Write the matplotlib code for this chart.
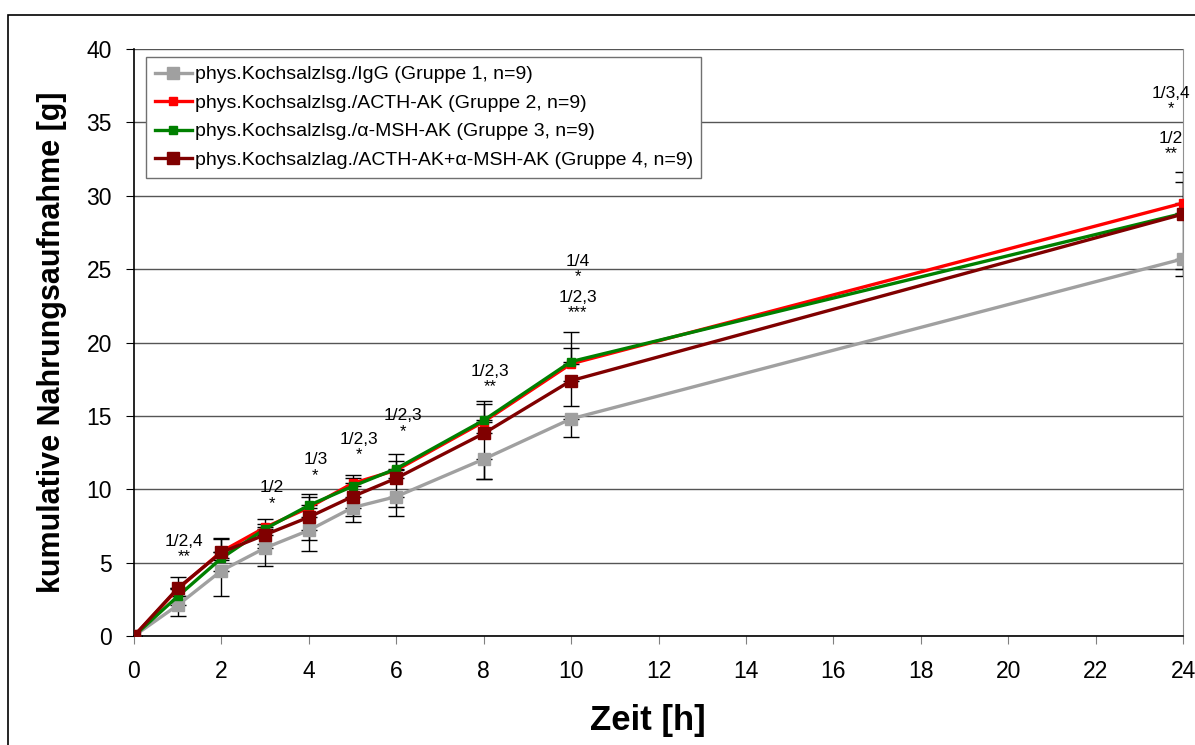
"""Kumulative Nahrungsaufnahme über die Zeit (4 Gruppen, Mittelwert ± SEM)."""

import matplotlib

matplotlib.use("Agg")
import matplotlib.pyplot as plt
from matplotlib.patches import Rectangle

plt.rcParams["font.family"] = ["Liberation Sans", "DejaVu Sans"]

# Zeitpunkte [h]
zeit = [0, 1, 2, 3, 4, 5, 6, 8, 10, 24]

# Mittelwerte [g]
gruppe1 = [0, 2.1, 4.45, 6.0, 7.2, 8.75, 9.5, 12.05, 14.8, 25.7]
gruppe2 = [0, 3.2, 5.75, 7.4, 8.75, 10.4, 11.3, 14.6, 18.55, 29.5]
gruppe3 = [0, 2.7, 5.3, 7.3, 8.9, 10.2, 11.4, 14.7, 18.7, 28.8]
gruppe4 = [0, 3.25, 5.7, 6.9, 8.1, 9.5, 10.75, 13.8, 17.4, 28.75]

# Fehlerbalken (Gruppe 2/3 nur nach oben, Gruppe 1/4 nur nach unten)
err1_lo = [0, 0.75, 1.7, 1.2, 1.4, 1.0, 1.3, 1.35, 1.25, 1.2]
err2_hi = [0, 0.8, 0.9, 0.6, 0.7, 0.55, 0.65, 1.2, 1.1, 2.15]
err3_hi = [0, 0.6, 1.3, 0.3, 0.8, 0.6, 1.0, 1.3, 2.0, 2.15]
err4_lo = [0, 0.5, 0.5, 0.6, 1.55, 1.3, 1.95, 3.1, 1.7, 3.75]
zero = [0] * len(zeit)

labels = [
    "phys.Kochsalzlsg./IgG (Gruppe 1, n=9)",
    "phys.Kochsalzlsg./ACTH-AK (Gruppe 2, n=9)",
    "phys.Kochsalzlsg./\u03b1-MSH-AK (Gruppe 3, n=9)",
    "phys.Kochsalzlag./ACTH-AK+\u03b1-MSH-AK (Gruppe 4, n=9)",
]
colors = ["#A0A0A0", "#FF0000", "#008000", "#800000"]

# Signifikanzangaben: (Zeit, Vergleich, Sterne)
sig_zeit = [1, 3, 4, 5, 6, 8, 10, 10, 24, 24]
sig_text = ["1/2,4", "1/2", "1/3", "1/2,3", "1/2,3", "1/2,3", "1/4", "1/2,3", "1/3,4", "1/2"]
sig_sterne = ["**", "*", "*", "*", "*", "**", "*", "***", "*", "**"]
# Textposition (y der Vergleichszeile)
sig_y = [6.45, 10.1, 12.0, 13.4, 15.0, 18.05, 25.55, 23.1, 37.0, 33.9]


def main() -> None:
    fig = plt.figure(figsize=(11.95, 7.45), dpi=100)
    ax = fig.add_axes([134 / 1195, 1 - 636 / 745, 1049 / 1195, 587 / 745])

    # Rahmen um die Grafik
    fig.patches.append(Rectangle((8 / 1195, -0.1), 1.1, 0.98 + 0.1, transform=fig.transFigure,
                                 fill=False, edgecolor="black", linewidth=1.2))

    series = [
        (gruppe1, [err1_lo, zero], 8),
        (gruppe2, [zero, err2_hi], 6),
        (gruppe3, [zero, err3_hi], 6),
        (gruppe4, [err4_lo, zero], 8),
    ]
    for (y, yerr, ms), lab, col in zip(series, labels, colors):
        ax.errorbar(zeit, y, yerr=yerr, fmt="none", ecolor="black", elinewidth=1,
                    capsize=6, capthick=1, zorder=2)
    for (y, yerr, ms), lab, col in zip(series, labels, colors):
        ax.plot(zeit, y, color=col, linewidth=2.4, marker="s", markersize=ms,
                label=lab, zorder=3)

    for t, txt, st, yy in zip(sig_zeit, sig_text, sig_sterne, sig_y):
        xx = 23.72 if t == 24 else t + 0.15
        ax.text(xx, yy, txt, ha="center", va="center", fontsize=12.5)
        ax.text(xx, yy - 1.05, st, ha="center", va="center", fontsize=12)

    ax.set_xlim(0, 24)
    ax.set_ylim(0, 40)
    ax.set_xticks(range(0, 25, 2))
    ax.set_yticks(range(0, 41, 5))
    ax.tick_params(axis="both", labelsize=16.5)
    ax.tick_params(axis="x", length=6, pad=11, color="#808080")
    ax.tick_params(axis="y", length=6, pad=10)
    ax.yaxis.grid(True, color="#555555", linewidth=1)
    ax.set_axisbelow(True)
    ax.spines["top"].set_visible(False)
    ax.spines["right"].set_color("#909090")
    ax.spines["left"].set_linewidth(1.2)
    ax.spines["bottom"].set_linewidth(1.2)

    ax.set_xlabel("Zeit [h]", fontsize=25, fontweight="bold")
    ax.xaxis.set_label_coords(0.49, -0.116)
    ax.set_ylabel("kumulative Nahrungsaufnahme [g]", fontsize=22, fontweight="bold")
    ax.yaxis.set_label_coords(-0.064, 0.5)

    leg = ax.legend(loc="upper left", bbox_to_anchor=(12 / 1049, 1 - 8 / 587),
                    borderaxespad=0, fontsize=14, fancybox=False, framealpha=1,
                    edgecolor="#707070", handlelength=1.9, handletextpad=0.15,
                    labelspacing=0.56, borderpad=0.45)
    leg.get_frame().set_linewidth(1)

    fig.savefig("out.png", dpi=100)


if __name__ == "__main__":
    main()
